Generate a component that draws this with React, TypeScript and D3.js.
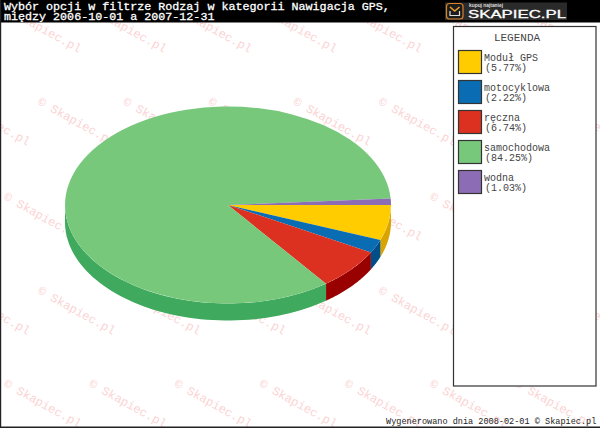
import React from "react";
import * as d3 from "d3";

const categories = ["Moduł GPS", "motocyklowa", "ręczna", "samochodowa", "wodna"];
const shares = [5.77, 2.22, 6.74, 84.25, 1.03];
const topColors = ["#ffcc00", "#0a6db3", "#dc3120", "#78c87c", "#8c6db5"];
const sideColors = ["#d9a300", "#004f88", "#990000", "#3fa95e", "#6a4d90"];
const titleLines = [
  "Wybór opcji w filtrze Rodzaj w kategorii Nawigacja GPS,",
  "między 2006-10-01 a 2007-12-31",
];
const footer = "Wygenerowano dnia 2008-02-01 © Skapiec.pl";
const watermark = "© Skapiec.pl";
const MONO = "'Liberation Mono', 'DejaVu Sans Mono', monospace";

const cx = 228, cy = 205, rx = 163, ry = 98.5, depth = 17;

const pieLayout = d3.pie<number>().sort(null).value((d) => d)
  .startAngle(Math.PI / 2).endAngle(Math.PI / 2 + 2 * Math.PI);
const slices = pieLayout(shares);
const wedge = d3.arc<d3.PieArcDatum<number>>().innerRadius(0).outerRadius(1);
const rimX = d3.scaleLinear().domain([-1, 1]).range([cx - rx, cx + rx]);
const rimY = d3.scaleLinear().domain([-1, 1]).range([cy - ry, cy + ry]);
const line = d3.line<[number, number]>();

function rimPath(start: number, end: number): string | null {
  const a0 = Math.max(start, Math.PI / 2);
  const a1 = Math.min(end, (3 * Math.PI) / 2);
  if (a1 <= a0) return null;
  const angles = d3.range(0, 61).map((i) => a0 + ((a1 - a0) * i) / 60);
  const top = angles.map((a): [number, number] => [rimX(Math.sin(a)), rimY(-Math.cos(a))]);
  const bottom = top.slice().reverse().map(([x, y]): [number, number] => [x, y + depth]);
  return line([...top, ...bottom]) + "Z";
}

const wmRows = [8, 101, 196, 290, 383];
const wmOffsets = [7, 41, 7, 41, 7];
const wmStep = 85.2;

export default function App() {
  const marks: { x: number; y: number }[] = [];
  wmRows.forEach((y, r) => {
    for (let i = -1; i < 8; i++) marks.push({ x: wmOffsets[r] + i * wmStep, y });
  });
  return (
    <svg width={600} height={428} style={{ position: "absolute", left: 0, top: 0, background: "#fff" }}>
      <g fill="#fbd3d3" fontFamily={MONO} fontSize={12}>
        {marks.map((m, i) => (
          <text key={i} transform={`translate(${m.x - 4},${m.y + 3}) rotate(29)`}>{watermark}</text>
        ))}
      </g>

      <rect x={0} y={0} width={600} height={22.5} fill="#000" />
      <rect x={0} y={0} width={1.2} height={428} fill="#222" />
      <rect x={0} y={426.5} width={600} height={1.5} fill="#222" />
      <g fill="#fff" stroke="#fff" strokeWidth={0.3} fontFamily={MONO} fontSize={11.7}>
        {titleLines.map((t, i) => (
          <text key={i} x={4} y={9.5 + i * 10.5}>{t}</text>
        ))}
      </g>

      <g>
        <rect x={445} y={2.5} width={122} height={17.5} fill="#2a2a2a" />
        <rect x={446.5} y={3.5} width={16.5} height={15.5} rx={3} fill="#1c1c1c" stroke="#d9822b" strokeWidth={1.2} />
        <path d="M450 7 L454.7 11 L459.5 7" fill="none" stroke="#e9a030" strokeWidth={1.5} />
        <path d="M450 11 V15.5 H459.5 V11" fill="none" stroke="#ddd" strokeWidth={1.2} />
        <text x={469} y={7} fontFamily="'Liberation Sans'" fontSize={4.5} fontWeight={700} fill="#ddd" textLength={34} lengthAdjust="spacingAndGlyphs">kupuj najtaniej</text>
        <text x={468} y={18} fontFamily="'Liberation Sans'" fontSize={11.5} fill="#fff" stroke="#fff" strokeWidth={0.3} textLength={98} lengthAdjust="spacingAndGlyphs">SKAPIEC.PL</text>
      </g>

      <g>
        {slices.map((s, i) => {
          const d = rimPath(s.startAngle, s.endAngle);
          return d ? <path key={i} d={d} fill={sideColors[i]} /> : null;
        })}
        <g transform={`translate(${cx},${cy}) scale(${rx},${ry})`}>
          {slices.map((s, i) => (
            <path key={i} d={wedge(s) as string} fill={topColors[i]} />
          ))}
        </g>
      </g>

      <rect x={453.5} y={26.5} width={142.5} height={359.5} fill="#fff" stroke="#333" strokeWidth={1.2} />
      <text x={517} y={41} textAnchor="middle" fontFamily={MONO} fontSize={11} fill="#444">LEGENDA</text>
      {categories.map((c, i) => {
        const y = 50.5 + i * 30;
        return (
          <g key={c}>
            <rect x={458.5} y={y} width={23} height={23} fill={topColors[i]} stroke="#333" strokeWidth={1.2} />
            <text x={484} y={y + 10.5} fontFamily={MONO} fontSize={10} fill="#444">{c}</text>
            <text x={485} y={y + 20.5} fontFamily={MONO} fontSize={10} fill="#444">({shares[i].toFixed(2)}%)</text>
          </g>
        );
      })}

      <text x={386} y={424} fontFamily={MONO} fontSize={8.55} fill="#222">{footer}</text>
    </svg>
  );
}
